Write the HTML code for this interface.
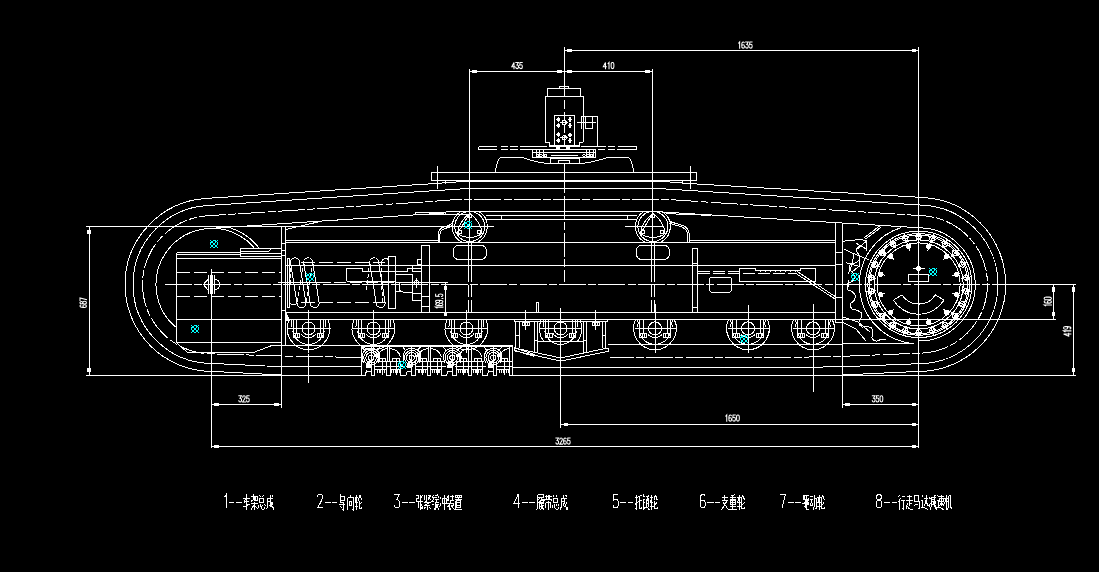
<!DOCTYPE html>
<html><head><meta charset="utf-8"><title>CAD</title>
<style>
html,body{margin:0;padding:0;background:#000;overflow:hidden}
svg{display:block}
.t{font-family:"Liberation Sans",sans-serif;fill:#fff;stroke:#fff;stroke-width:0.3px}
</style></head><body>
<svg width="1099" height="572" viewBox="0 0 1099 572" shape-rendering="crispEdges"><g fill="none" stroke="#fff" stroke-width="1"><line x1="564.3" y1="50.5" x2="918.7" y2="50.5"/>
<line x1="564.3" y1="46.5" x2="564.3" y2="96"/>
<line x1="918.7" y1="46.5" x2="918.7" y2="447.5"/>
<rect x="567.6" y="49.4" width="3.4" height="2.2" fill="#fff"/>
<rect x="912" y="49.4" width="3.4" height="2.2" fill="#fff"/>
<g shape-rendering="geometricPrecision" stroke-width="1.05" stroke-linecap="square" transform="translate(745 45)"><path vector-effect="non-scaling-stroke" transform="translate(-7.23 -3.05) scale(0.52 0.45)" d="M1.8 2.6L3.6 0V13.7"/><path vector-effect="non-scaling-stroke" transform="translate(-3.38 -3.05) scale(0.52 0.45)" d="M5 1.6Q4.5 0 3 0Q0.3 0 0.3 6.5V10Q0.3 13.7 2.9 13.7Q5.5 13.7 5.5 9.9Q5.5 6.1 2.9 6.1Q0.8 6.1 0.3 8.6"/><path vector-effect="non-scaling-stroke" transform="translate(0.47 -3.05) scale(0.52 0.45)" d="M0.3 0H5.3L2.5 5.5Q5.5 5.5 5.5 9.6Q5.5 13.7 2.8 13.7Q0.5 13.7 0.2 11"/><path vector-effect="non-scaling-stroke" transform="translate(4.33 -3.05) scale(0.52 0.45)" d="M5.2 0H0.9L0.5 6Q1.5 5 3 5Q5.5 5 5.5 9.3Q5.5 13.7 2.8 13.7Q0.6 13.7 0.2 11.2"/></g>
<line x1="469.3" y1="71.5" x2="652.6" y2="71.5"/>
<line x1="469.6" y1="68.5" x2="469.6" y2="243"/>
<line x1="652.8" y1="68.5" x2="652.8" y2="243"/>
<rect x="472.6" y="70.4" width="3.4" height="2.2" fill="#fff"/>
<rect x="557.6" y="70.4" width="3.4" height="2.2" fill="#fff"/>
<rect x="567.6" y="70.4" width="3.4" height="2.2" fill="#fff"/>
<rect x="645.9" y="70.4" width="3.4" height="2.2" fill="#fff"/>
<g shape-rendering="geometricPrecision" stroke-width="1.05" stroke-linecap="square" transform="translate(517.1 65.5)"><path vector-effect="non-scaling-stroke" transform="translate(-5.3 -3.05) scale(0.52 0.45)" d="M4.2 13.7V0L0 9.6H5.9"/><path vector-effect="non-scaling-stroke" transform="translate(-1.45 -3.05) scale(0.52 0.45)" d="M0.3 0H5.3L2.5 5.5Q5.5 5.5 5.5 9.6Q5.5 13.7 2.8 13.7Q0.5 13.7 0.2 11"/><path vector-effect="non-scaling-stroke" transform="translate(2.4 -3.05) scale(0.52 0.45)" d="M5.2 0H0.9L0.5 6Q1.5 5 3 5Q5.5 5 5.5 9.3Q5.5 13.7 2.8 13.7Q0.6 13.7 0.2 11.2"/></g>
<g shape-rendering="geometricPrecision" stroke-width="1.05" stroke-linecap="square" transform="translate(608.6 65.5)"><path vector-effect="non-scaling-stroke" transform="translate(-5.3 -3.05) scale(0.52 0.45)" d="M4.2 13.7V0L0 9.6H5.9"/><path vector-effect="non-scaling-stroke" transform="translate(-1.45 -3.05) scale(0.52 0.45)" d="M1.8 2.6L3.6 0V13.7"/><path vector-effect="non-scaling-stroke" transform="translate(2.4 -3.05) scale(0.52 0.45)" d="M2.9 0Q0.3 0 0.3 4V9.7Q0.3 13.7 2.9 13.7Q5.5 13.7 5.5 9.7V4Q5.5 0 2.9 0"/></g>
<line x1="89" y1="227" x2="89" y2="375"/>
<line x1="86" y1="226.5" x2="492" y2="226.5"/>
<line x1="86" y1="375.5" x2="361.8" y2="375.5"/>
<line x1="512.3" y1="375.5" x2="1076" y2="375.5"/>
<rect x="87.9" y="230.3" width="2.2" height="3.4" fill="#fff"/>
<rect x="87.9" y="368.3" width="2.2" height="3.4" fill="#fff"/>
<g shape-rendering="geometricPrecision" stroke-width="1.05" stroke-linecap="square" transform="translate(83.2 302.7) rotate(-90)"><path vector-effect="non-scaling-stroke" transform="translate(-4.85 -3.2) scale(0.5 0.47)" d="M5 1.6Q4.5 0 3 0Q0.3 0 0.3 6.5V10Q0.3 13.7 2.9 13.7Q5.5 13.7 5.5 9.9Q5.5 6.1 2.9 6.1Q0.8 6.1 0.3 8.6"/><path vector-effect="non-scaling-stroke" transform="translate(-1.4 -3.2) scale(0.5 0.47)" d="M2.9 0Q0.6 0 0.6 3Q0.6 6 2.9 6Q5.2 6 5.2 3Q5.2 0 2.9 0M2.9 6Q0.2 6 0.2 9.9Q0.2 13.7 2.9 13.7Q5.6 13.7 5.6 9.9Q5.6 6 2.9 6"/><path vector-effect="non-scaling-stroke" transform="translate(2.05 -3.2) scale(0.5 0.47)" d="M0.2 0H5.5L2 13.7"/></g>
<line x1="1053.6" y1="284" x2="1053.6" y2="319.5"/>
<line x1="1073.4" y1="284" x2="1073.4" y2="375"/>
<line x1="285" y1="319.5" x2="1056" y2="319.5"/>
<rect x="1052.5" y="287.9" width="2.2" height="3.4" fill="#fff"/>
<rect x="1052.5" y="312.5" width="2.2" height="3.4" fill="#fff"/>
<rect x="1072.3" y="287.9" width="2.2" height="3.4" fill="#fff"/>
<rect x="1072.3" y="368.4" width="2.2" height="3.4" fill="#fff"/>
<g shape-rendering="geometricPrecision" stroke-width="1.05" stroke-linecap="square" transform="translate(1047.8 301.9) rotate(-90)"><path vector-effect="non-scaling-stroke" transform="translate(-4.85 -3.6) scale(0.5 0.53)" d="M1.8 2.6L3.6 0V13.7"/><path vector-effect="non-scaling-stroke" transform="translate(-1.4 -3.6) scale(0.5 0.53)" d="M5 1.6Q4.5 0 3 0Q0.3 0 0.3 6.5V10Q0.3 13.7 2.9 13.7Q5.5 13.7 5.5 9.9Q5.5 6.1 2.9 6.1Q0.8 6.1 0.3 8.6"/><path vector-effect="non-scaling-stroke" transform="translate(2.05 -3.6) scale(0.5 0.53)" d="M2.9 0Q0.3 0 0.3 4V9.7Q0.3 13.7 2.9 13.7Q5.5 13.7 5.5 9.7V4Q5.5 0 2.9 0"/></g>
<g shape-rendering="geometricPrecision" stroke-width="1.05" stroke-linecap="square" transform="translate(1067.2 331.3) rotate(-90)"><path vector-effect="non-scaling-stroke" transform="translate(-4.85 -3.6) scale(0.5 0.53)" d="M4.2 13.7V0L0 9.6H5.9"/><path vector-effect="non-scaling-stroke" transform="translate(-1.4 -3.6) scale(0.5 0.53)" d="M1.8 2.6L3.6 0V13.7"/><path vector-effect="non-scaling-stroke" transform="translate(2.05 -3.6) scale(0.5 0.53)" d="M0.6 12.1Q1.1 13.7 2.6 13.7Q5.3 13.7 5.3 7.2V3.7Q5.3 0 2.7 0Q0.1 0 0.1 3.8Q0.1 7.6 2.7 7.6Q4.8 7.6 5.3 5.1"/></g>
<line x1="211.6" y1="404.5" x2="281.4" y2="404.5"/>
<line x1="211.6" y1="269" x2="211.6" y2="447.5"/>
<line x1="281.4" y1="226.5" x2="281.4" y2="408"/>
<rect x="214.9" y="403.4" width="3.4" height="2.2" fill="#fff"/>
<rect x="274.7" y="403.4" width="3.4" height="2.2" fill="#fff"/>
<g shape-rendering="geometricPrecision" stroke-width="1.05" stroke-linecap="square" transform="translate(244 398.8)"><path vector-effect="non-scaling-stroke" transform="translate(-5.3 -3.05) scale(0.52 0.45)" d="M0.3 0H5.3L2.5 5.5Q5.5 5.5 5.5 9.6Q5.5 13.7 2.8 13.7Q0.5 13.7 0.2 11"/><path vector-effect="non-scaling-stroke" transform="translate(-1.45 -3.05) scale(0.52 0.45)" d="M0.3 3Q0.3 0 2.8 0Q5.3 0 5.3 3Q5.3 5.5 0.3 13.7H5.6"/><path vector-effect="non-scaling-stroke" transform="translate(2.4 -3.05) scale(0.52 0.45)" d="M5.2 0H0.9L0.5 6Q1.5 5 3 5Q5.5 5 5.5 9.3Q5.5 13.7 2.8 13.7Q0.6 13.7 0.2 11.2"/></g>
<line x1="842.5" y1="404.5" x2="918.7" y2="404.5"/>
<line x1="842.5" y1="345" x2="842.5" y2="408"/>
<rect x="845.8" y="403.4" width="3.4" height="2.2" fill="#fff"/>
<rect x="912" y="403.4" width="3.4" height="2.2" fill="#fff"/>
<g shape-rendering="geometricPrecision" stroke-width="1.05" stroke-linecap="square" transform="translate(877.5 398.8)"><path vector-effect="non-scaling-stroke" transform="translate(-5.3 -3.05) scale(0.52 0.45)" d="M0.3 0H5.3L2.5 5.5Q5.5 5.5 5.5 9.6Q5.5 13.7 2.8 13.7Q0.5 13.7 0.2 11"/><path vector-effect="non-scaling-stroke" transform="translate(-1.45 -3.05) scale(0.52 0.45)" d="M5.2 0H0.9L0.5 6Q1.5 5 3 5Q5.5 5 5.5 9.3Q5.5 13.7 2.8 13.7Q0.6 13.7 0.2 11.2"/><path vector-effect="non-scaling-stroke" transform="translate(2.4 -3.05) scale(0.52 0.45)" d="M2.9 0Q0.3 0 0.3 4V9.7Q0.3 13.7 2.9 13.7Q5.5 13.7 5.5 9.7V4Q5.5 0 2.9 0"/></g>
<line x1="560.7" y1="424.5" x2="918.7" y2="424.5"/>
<line x1="560.7" y1="352.5" x2="560.7" y2="427.5"/>
<rect x="564" y="423.4" width="3.4" height="2.2" fill="#fff"/>
<rect x="912" y="423.4" width="3.4" height="2.2" fill="#fff"/>
<g shape-rendering="geometricPrecision" stroke-width="1.05" stroke-linecap="square" transform="translate(732.1 418)"><path vector-effect="non-scaling-stroke" transform="translate(-7.23 -3.05) scale(0.52 0.45)" d="M1.8 2.6L3.6 0V13.7"/><path vector-effect="non-scaling-stroke" transform="translate(-3.38 -3.05) scale(0.52 0.45)" d="M5 1.6Q4.5 0 3 0Q0.3 0 0.3 6.5V10Q0.3 13.7 2.9 13.7Q5.5 13.7 5.5 9.9Q5.5 6.1 2.9 6.1Q0.8 6.1 0.3 8.6"/><path vector-effect="non-scaling-stroke" transform="translate(0.47 -3.05) scale(0.52 0.45)" d="M5.2 0H0.9L0.5 6Q1.5 5 3 5Q5.5 5 5.5 9.3Q5.5 13.7 2.8 13.7Q0.6 13.7 0.2 11.2"/><path vector-effect="non-scaling-stroke" transform="translate(4.33 -3.05) scale(0.52 0.45)" d="M2.9 0Q0.3 0 0.3 4V9.7Q0.3 13.7 2.9 13.7Q5.5 13.7 5.5 9.7V4Q5.5 0 2.9 0"/></g>
<line x1="211.6" y1="446.5" x2="918.7" y2="446.5"/>
<rect x="214.9" y="445.4" width="3.4" height="2.2" fill="#fff"/>
<rect x="912" y="445.4" width="3.4" height="2.2" fill="#fff"/>
<g shape-rendering="geometricPrecision" stroke-width="1.05" stroke-linecap="square" transform="translate(563 441)"><path vector-effect="non-scaling-stroke" transform="translate(-7.23 -3.05) scale(0.52 0.45)" d="M0.3 0H5.3L2.5 5.5Q5.5 5.5 5.5 9.6Q5.5 13.7 2.8 13.7Q0.5 13.7 0.2 11"/><path vector-effect="non-scaling-stroke" transform="translate(-3.38 -3.05) scale(0.52 0.45)" d="M0.3 3Q0.3 0 2.8 0Q5.3 0 5.3 3Q5.3 5.5 0.3 13.7H5.6"/><path vector-effect="non-scaling-stroke" transform="translate(0.47 -3.05) scale(0.52 0.45)" d="M5 1.6Q4.5 0 3 0Q0.3 0 0.3 6.5V10Q0.3 13.7 2.9 13.7Q5.5 13.7 5.5 9.9Q5.5 6.1 2.9 6.1Q0.8 6.1 0.3 8.6"/><path vector-effect="non-scaling-stroke" transform="translate(4.33 -3.05) scale(0.52 0.45)" d="M5.2 0H0.9L0.5 6Q1.5 5 3 5Q5.5 5 5.5 9.3Q5.5 13.7 2.8 13.7Q0.6 13.7 0.2 11.2"/></g>
<line x1="165" y1="284.4" x2="1010" y2="284.4" stroke-dasharray="27 2.2 8 2.2"/>
<line x1="1010" y1="284.4" x2="1076" y2="284.4"/>
<line x1="564.3" y1="185" x2="564.3" y2="281.8" stroke-dasharray="8 2.5 24 2.5"/>
<path d="M461.9 181.6 L431 183.8 L206.42 198.38 A87 86.2 0 0 0 125 284.4 A87 87 0 0 0 150.48 345.92 A87 87 0 0 0 212 371.4 L291 375.5"/>
<path d="M664.1 181.6 L697 184 L923.89 197.55 A87 87 0 0 1 980.22 222.88 A87 87 0 0 1 1005.7 284.4 A87 87 0 0 1 980.22 345.92 A87 87 0 0 1 918.7 371.4 L831 375.5"/>
<line x1="445.3" y1="180.7" x2="445.3" y2="183.5"/>
<line x1="682.3" y1="180.7" x2="682.3" y2="183.5"/>
<path d="M512.3 367.5 L790 367.5 L843 366.7 L918.7 363.7 A79.3 79.3 0 0 0 974.77 340.47 A79.3 79.3 0 0 0 998 284.4 A79.3 79.3 0 0 0 974.77 228.33 A79.3 79.3 0 0 0 923.69 205.26 L664.1 188.9 L461.9 188.9 L400 192.9 L206.83 205.57 A79 79 0 0 0 156.14 228.54 A79 79 0 0 0 133 284.4 A79 79 0 0 0 156.14 340.26 A79 79 0 0 0 212 363.4 L265 366 L361 366.6"/>
<path d="M362 357.5 L282 356 L212 353.9 A69.5 69.5 0 0 1 162.86 333.54 A69.5 69.5 0 0 1 142.5 284.4 A69.5 68.8 0 0 1 207.63 215.74 L425 201.9 L455 199.6 L670 199.6 L710 202.3 L923.03 215.74 A68.8 68.8 0 0 1 967.35 235.75 A68.8 68.8 0 0 1 987.5 284.4 A68.8 68.8 0 0 1 967.35 333.05 A68.8 68.8 0 0 1 918.7 353.2 L843 356.3 L790 357.4 L610 357.3" stroke-dasharray="27 2.2 8 2.2"/>
<rect x="431.6" y="172.4" width="264.7" height="8"/>
<line x1="461.9" y1="181.4" x2="664.1" y2="181.4"/>
<line x1="437.6" y1="166.2" x2="437.6" y2="188.6"/>
<line x1="690.3" y1="166.2" x2="690.3" y2="188.6"/>
<line x1="564.3" y1="163.6" x2="564.3" y2="185"/>
<path d="M176.76 327.92 A56 56 0 0 1 240 235.9"/>
<rect x="559.3" y="86.5" width="9.6" height="1.6"/>
<rect x="547.2" y="88.1" width="33.5" height="7.9"/>
<path d="M545.3 96 L545.3 141.6 L546.5 142.8 L549.1 142.8 L549.1 146.3"/>
<path d="M583.4 96 L583.4 141.6 L582.2 142.8 L579.8 142.8 L579.8 146.3"/>
<line x1="545.3" y1="96" x2="583.4" y2="96"/>
<rect x="554.2" y="115.6" width="20.2" height="29.8"/>
<line x1="549.1" y1="145.4" x2="579.8" y2="145.4"/>
<line x1="564.2" y1="100" x2="564.2" y2="145" stroke-dasharray="9 3"/>
<path d="M581.5 128.8 L581.5 116.5 L597.6 116.5 L597.6 146.3"/>
<line x1="583.4" y1="116.5" x2="583.4" y2="128.8"/>
<rect x="585.4" y="116.5" width="7.5" height="12.3"/>
<line x1="577.4" y1="122.5" x2="595.7" y2="122.5"/>
<circle cx="564.2" cy="122.5" r="2.1"/>
<line x1="560.2" y1="122.5" x2="568.2" y2="122.5"/>
<path d="M556.9 119.6 l1.5 -2 l1.5 2 l-1.5 2 z" fill="#fff"/>
<path d="M556.9 125.4 l1.5 -2 l1.5 2 l-1.5 2 z" fill="#fff"/>
<path d="M568.5 119.6 l1.5 -2 l1.5 2 l-1.5 2 z" fill="#fff"/>
<path d="M568.5 125.4 l1.5 -2 l1.5 2 l-1.5 2 z" fill="#fff"/>
<circle cx="564.2" cy="137.7" r="2.1"/>
<line x1="560.2" y1="137.7" x2="568.2" y2="137.7"/>
<path d="M556.9 134.8 l1.5 -2 l1.5 2 l-1.5 2 z" fill="#fff"/>
<path d="M556.9 140.6 l1.5 -2 l1.5 2 l-1.5 2 z" fill="#fff"/>
<path d="M568.5 134.8 l1.5 -2 l1.5 2 l-1.5 2 z" fill="#fff"/>
<path d="M568.5 140.6 l1.5 -2 l1.5 2 l-1.5 2 z" fill="#fff"/>
<line x1="479.1" y1="146.6" x2="497.3" y2="146.6"/>
<line x1="500.9" y1="146.6" x2="508.2" y2="146.6"/>
<line x1="510" y1="146.6" x2="517.8" y2="146.6"/>
<line x1="520" y1="146.6" x2="547.3" y2="146.6"/>
<line x1="478.2" y1="149.6" x2="497.3" y2="149.6"/>
<line x1="500.9" y1="149.6" x2="508.2" y2="149.6"/>
<line x1="510" y1="149.6" x2="517.8" y2="149.6"/>
<line x1="520" y1="149.6" x2="533" y2="149.6"/>
<path d="M479.1 146.6 L478.2 149.6"/>
<line x1="581" y1="146.6" x2="605.5" y2="146.6"/>
<line x1="608.2" y1="146.6" x2="615" y2="146.6"/>
<line x1="618.2" y1="146.6" x2="636.9" y2="146.6"/>
<line x1="598.2" y1="149.6" x2="605" y2="149.6"/>
<line x1="608.2" y1="149.6" x2="615" y2="149.6"/>
<line x1="617.3" y1="149.6" x2="636.9" y2="149.6"/>
<line x1="636.9" y1="146.6" x2="636.9" y2="149.6"/>
<line x1="549.1" y1="146.6" x2="579.8" y2="146.6"/>
<line x1="549.1" y1="149.2" x2="579.8" y2="149.2"/>
<rect x="532.8" y="149.5" width="62.7" height="8.3"/>
<line x1="533.4" y1="152" x2="595.2" y2="152"/>
<line x1="536" y1="149.5" x2="536" y2="158.2"/>
<line x1="539.5" y1="149.5" x2="539.5" y2="158.2"/>
<line x1="543" y1="149.5" x2="543" y2="158.2"/>
<line x1="586" y1="149.5" x2="586" y2="158.2"/>
<line x1="589.5" y1="149.5" x2="589.5" y2="158.2"/>
<line x1="593" y1="149.5" x2="593" y2="158.2"/>
<rect x="550.4" y="158.2" width="28.6" height="5.4"/>
<rect x="558.9" y="160.6" width="10.8" height="3"/>
<line x1="551" y1="155.3" x2="578" y2="155.3"/>
<circle cx="537.5" cy="155.3" r="1.2"/>
<circle cx="541" cy="155.3" r="1.2"/>
<circle cx="545.5" cy="155.3" r="1.2"/>
<circle cx="584" cy="155.3" r="1.2"/>
<circle cx="588" cy="155.3" r="1.2"/>
<circle cx="591.5" cy="155.3" r="1.2"/>
<rect x="556.5" y="146.8" width="2.8" height="2.6" fill="#fff"/>
<rect x="566.2" y="146.8" width="2.8" height="2.6" fill="#fff"/>
<path d="M495 172.3 C496.5 165 497.5 159.5 500.5 157.4 L521.8 157.4 C531 160.5 541 163.6 550.4 163.6 M579 163.6 C588 163.6 598 160.5 608.4 157.4 L628.5 157.4 C631.5 159.5 632.5 165 634 172.3"/>
<line x1="445.5" y1="211.9" x2="661" y2="211.9"/>
<line x1="445.5" y1="214.2" x2="469.4" y2="214.2"/>
<line x1="425" y1="215" x2="445.5" y2="211.9"/>
<line x1="208.32" y1="228.52" x2="445.5" y2="212.9"/>
<line x1="661" y1="211.9" x2="922.16" y2="227.91"/>
<line x1="666" y1="213.6" x2="711" y2="215.4"/>
<rect x="415.6" y="212.8" width="29.9" height="1.6"/>
<line x1="486" y1="215.6" x2="637" y2="215.6"/>
<line x1="486" y1="219.4" x2="637" y2="219.4"/>
<line x1="501.4" y1="215.6" x2="501.4" y2="219.4"/>
<line x1="627.6" y1="215.6" x2="627.6" y2="219.4"/>
<path d="M460.79 211.5 A17.5 17.5 0 0 0 462.28 242.3"/>
<path d="M478.81 211.5 A17.5 17.5 0 0 1 477.32 242.3"/>
<circle cx="469.8" cy="226.5" r="15"/>
<path d="M469.8 213.2 C476.8 218.5 481.8 226.5 482.1 233.5 C477.8 236.5 472.8 237.5 469.8 237.5 C466.8 237.5 461.8 236.5 457.5 233.5 Z M457.5 233.5 C457.8 226.5 462.8 218.5 469.8 213.2"/>
<rect x="468.3" y="214" width="3" height="3"/>
<rect x="458.8" y="230.5" width="3" height="3"/>
<rect x="477.8" y="230.5" width="3" height="3"/>
<line x1="455.8" y1="226.5" x2="493.8" y2="226.5"/>
<line x1="469.8" y1="220.5" x2="469.8" y2="240.5"/>
<rect x="453.3" y="245.2" width="33" height="14.4" rx="5.5"/>
<line x1="468.3" y1="243" x2="468.3" y2="270"/>
<line x1="471.4" y1="243" x2="471.4" y2="270"/>
<line x1="468.3" y1="270" x2="468.3" y2="311.5" stroke-dasharray="12 3"/>
<line x1="471.4" y1="270" x2="471.4" y2="311.5" stroke-dasharray="12 3"/>
<path d="M643.89 211.5 A17.5 17.5 0 0 0 645.38 242.3"/>
<path d="M661.91 211.5 A17.5 17.5 0 0 1 660.42 242.3"/>
<circle cx="652.9" cy="226.5" r="15"/>
<path d="M652.9 213.2 C659.9 218.5 664.9 226.5 665.2 233.5 C660.9 236.5 655.9 237.5 652.9 237.5 C649.9 237.5 644.9 236.5 640.6 233.5 Z M640.6 233.5 C640.9 226.5 645.9 218.5 652.9 213.2"/>
<rect x="651.4" y="214" width="3" height="3"/>
<rect x="641.9" y="230.5" width="3" height="3"/>
<rect x="660.9" y="230.5" width="3" height="3"/>
<line x1="624.9" y1="226.5" x2="663.9" y2="226.5"/>
<line x1="652.9" y1="220.5" x2="652.9" y2="240.5"/>
<rect x="636.4" y="245.2" width="33" height="14.4" rx="5.5"/>
<line x1="651.4" y1="243" x2="651.4" y2="270"/>
<line x1="654.5" y1="243" x2="654.5" y2="270"/>
<line x1="651.4" y1="270" x2="651.4" y2="311.5" stroke-dasharray="12 3"/>
<line x1="654.5" y1="270" x2="654.5" y2="311.5" stroke-dasharray="12 3"/>
<path d="M438.4 242 L438.4 234 C438.6 229.5 441 227.8 444 227 C448 226 450.5 225 452.7 223.2"/>
<path d="M439.9 242 L439.9 235 C440.1 231 442 229.3 445 228.5 C449 227.5 451 226.5 453 225"/>
<path d="M689 242 L689 233 C688.8 229 686 227 682.8 225.5 C677 223.5 673 223 669.9 221.4"/>
<path d="M687.5 242 L687.5 234 C687.3 230.5 685 228.5 681.8 227 C676 225 672.5 224.5 669.5 223.2"/>
<line x1="281.6" y1="226.5" x2="281.6" y2="345.5"/>
<line x1="285.3" y1="226.5" x2="285.3" y2="345.5"/>
<line x1="281.6" y1="243.9" x2="285.3" y2="243.9"/>
<line x1="281.6" y1="250.9" x2="285.3" y2="250.9"/>
<line x1="281.6" y1="255.3" x2="285.3" y2="255.3"/>
<line x1="281.6" y1="310" x2="285.3" y2="310"/>
<line x1="835.7" y1="222.5" x2="835.7" y2="322.5"/>
<line x1="842.5" y1="222.5" x2="842.5" y2="345.5"/>
<line x1="285.3" y1="240.3" x2="438.2" y2="240.3"/>
<line x1="285.3" y1="242.3" x2="835.5" y2="242.3"/>
<line x1="689" y1="240.3" x2="835.5" y2="240.3"/>
<line x1="286" y1="229.4" x2="318.7" y2="221.8"/>
<line x1="285.3" y1="265.2" x2="835.5" y2="265.2"/>
<line x1="285.3" y1="312.5" x2="835.5" y2="312.5"/>
<line x1="285.3" y1="319.5" x2="835.5" y2="319.5"/>
<line x1="176.6" y1="252.7" x2="176.6" y2="342.7"/>
<line x1="176.6" y1="252.7" x2="240" y2="252.7"/>
<line x1="176.6" y1="254.2" x2="240" y2="254.2"/>
<line x1="176.6" y1="258.5" x2="281.6" y2="258.5"/>
<line x1="176.6" y1="319.5" x2="281.6" y2="319.5"/>
<line x1="176.6" y1="342.7" x2="281.6" y2="342.7"/>
<rect x="240" y="248.5" width="41.6" height="8.2"/>
<path d="M240 251.9 L268.2 251.9 L271 248.5"/>
<line x1="240" y1="253.7" x2="281.6" y2="253.7"/>
<line x1="176.6" y1="272.5" x2="281.6" y2="272.5" stroke-dasharray="13 4"/>
<line x1="176.6" y1="296.4" x2="281.6" y2="296.4" stroke-dasharray="13 4"/>
<path d="M208.4 279 L203.3 284.5 L208.4 290.3 M213.9 279 Q219.8 280 219.8 284.5 Q219.8 289.3 213.9 290.3"/>
<line x1="208.4" y1="275" x2="208.4" y2="294"/>
<line x1="210.3" y1="275" x2="210.3" y2="294"/>
<line x1="212.4" y1="275" x2="212.4" y2="294"/>
<line x1="214.2" y1="275" x2="214.2" y2="294"/>
<path d="M230.39 227.81 A59.5 59.5 0 0 1 258.89 247.77"/>
<path d="M240 235.9 A56 56 0 0 1 254.26 247.66"/>
<path d="M176.6 342.7 L187.3 352.3 L254 352.3 L272.7 345.2 L361.5 345.2"/>
<path d="M290.5 262.3 A4.5 4.5 0 0 1 299.5 262.3"/>
<path d="M297 303 A4.5 4.5 0 0 0 306 303"/>
<line x1="290.5" y1="262.3" x2="297" y2="303"/>
<line x1="299.5" y1="262.3" x2="306" y2="303"/>
<path d="M303.7 262.3 A4.5 4.5 0 0 1 312.7 262.3"/>
<path d="M310.2 303 A4.5 4.5 0 0 0 319.2 303"/>
<line x1="303.7" y1="262.3" x2="310.2" y2="303"/>
<line x1="312.7" y1="262.3" x2="319.2" y2="303"/>
<line x1="303.7" y1="262.3" x2="297.2" y2="303" stroke-dasharray="4 2"/>
<line x1="312.7" y1="262.3" x2="306.2" y2="303" stroke-dasharray="4 2"/>
<rect x="287.3" y="258.2" width="2.4" height="48.8"/>
<path d="M289.7 303 A4.5 4.5 0 0 0 297 303"/>
<line x1="290.5" y1="262.3" x2="289.7" y2="300" stroke-dasharray="4 2"/>
<path d="M369.7 262.3 A4.5 4.5 0 0 1 378.7 262.3"/>
<path d="M376.2 303 A4.5 4.5 0 0 0 385.2 303"/>
<line x1="369.7" y1="262.3" x2="376.2" y2="303"/>
<line x1="378.7" y1="262.3" x2="385.2" y2="303"/>
<path d="M381.3 262.3 A4.5 4.5 0 0 1 388.5 259.5"/>
<line x1="381.3" y1="262.3" x2="382.3" y2="303" stroke-dasharray="4 2"/>
<line x1="369.7" y1="262.3" x2="366.5" y2="290" stroke-dasharray="4 2"/>
<line x1="301" y1="262.3" x2="385" y2="262.3" stroke-dasharray="14 4"/>
<line x1="301" y1="302.4" x2="385" y2="302.4" stroke-dasharray="14 4"/>
<line x1="277.7" y1="282.3" x2="330.5" y2="282.3"/>
<line x1="334" y1="282.3" x2="421" y2="282.3" stroke-dasharray="12 4"/>
<rect x="388.5" y="256.4" width="7.2" height="51.8"/>
<path d="M346.5 281 L346.5 268.5 L362.3 268.5 L362.3 271.4 L407 271.4 L407 268.7 L422 268.7"/>
<line x1="346.5" y1="281" x2="395.7" y2="281"/>
<rect x="421.5" y="245.6" width="8.1" height="66.4"/>
<line x1="421.5" y1="296.4" x2="429.6" y2="296.4"/>
<line x1="421.5" y1="306.8" x2="429.6" y2="306.8"/>
<rect x="417.3" y="259.1" width="4.2" height="5.3"/>
<rect x="412.3" y="265.3" width="9.4" height="6.5"/>
<path d="M395.9 271 L401.8 271"/>
<path d="M395.9 274.4 L412.3 274.4 L412.3 300.5 L421.7 300.5"/>
<line x1="412.3" y1="293.2" x2="421.7" y2="293.2"/>
<path d="M395.9 291.4 L402 291.4 L404 292.6 L412.3 292.6"/>
<path d="M399.1 282.7 L399.1 290 L401 291.4"/>
<circle cx="416.4" cy="282.8" r="2.3"/>
<line x1="416.4" y1="278" x2="416.4" y2="287.5"/>
<line x1="395.9" y1="282.3" x2="447.8" y2="282.3"/>
<line x1="445.5" y1="282.3" x2="445.5" y2="314.6"/>
<rect x="444.5" y="286" width="2" height="3" fill="#fff"/>
<rect x="444.5" y="312.8" width="2" height="3" fill="#fff"/>
<g shape-rendering="geometricPrecision" stroke-width="1.05" stroke-linecap="square" transform="translate(439.2 301.4) rotate(-90)"><path vector-effect="non-scaling-stroke" transform="translate(-7.35 -3.6) scale(0.45 0.53)" d="M1.8 2.6L3.6 0V13.7"/><path vector-effect="non-scaling-stroke" transform="translate(-4.3 -3.6) scale(0.45 0.53)" d="M5 1.6Q4.5 0 3 0Q0.3 0 0.3 6.5V10Q0.3 13.7 2.9 13.7Q5.5 13.7 5.5 9.9Q5.5 6.1 2.9 6.1Q0.8 6.1 0.3 8.6"/><path vector-effect="non-scaling-stroke" transform="translate(-1.25 -3.6) scale(0.45 0.53)" d="M0.6 12.1Q1.1 13.7 2.6 13.7Q5.3 13.7 5.3 7.2V3.7Q5.3 0 2.7 0Q0.1 0 0.1 3.8Q0.1 7.6 2.7 7.6Q4.8 7.6 5.3 5.1"/><path vector-effect="non-scaling-stroke" transform="translate(1.8 -3.6) scale(0.45 0.53)" d="M2.5 12.2V13.7"/><path vector-effect="non-scaling-stroke" transform="translate(4.85 -3.6) scale(0.45 0.53)" d="M5.2 0H0.9L0.5 6Q1.5 5 3 5Q5.5 5 5.5 9.3Q5.5 13.7 2.8 13.7Q0.6 13.7 0.2 11.2"/></g>
<circle cx="308.5" cy="328.4" r="6.5"/>
<line x1="305" y1="328.4" x2="312" y2="328.4"/>
<path d="M327.85 319.5 A21.3 21.3 0 1 1 289.15 319.5"/>
<line x1="288" y1="328.4" x2="330.5" y2="328.4"/>
<path d="M324.34 330.63 A16 16 0 0 1 292.66 330.63"/>
<path d="M316.04 333.68 A9.2 9.2 0 0 1 300.96 333.68"/>
<line x1="296.5" y1="319.5" x2="296.5" y2="333.5"/>
<line x1="293.2" y1="319.5" x2="293.2" y2="333.5"/>
<rect x="293.2" y="333.5" width="6.7" height="4"/>
<line x1="297.7" y1="333.5" x2="297.7" y2="337.5"/>
<line x1="295.5" y1="333.5" x2="295.5" y2="337.5"/>
<path d="M291 320 q1.5 3 0 7"/>
<line x1="320.5" y1="319.5" x2="320.5" y2="333.5"/>
<line x1="323.8" y1="319.5" x2="323.8" y2="333.5"/>
<rect x="317.1" y="333.5" width="6.7" height="4"/>
<line x1="319.3" y1="333.5" x2="319.3" y2="337.5"/>
<line x1="321.5" y1="333.5" x2="321.5" y2="337.5"/>
<path d="M326 320 q-1.5 3 0 7"/>
<line x1="308.5" y1="309.5" x2="308.5" y2="352.5"/>
<circle cx="373.4" cy="328.4" r="6.5"/>
<line x1="369.9" y1="328.4" x2="376.9" y2="328.4"/>
<path d="M392.75 319.5 A21.3 21.3 0 1 1 354.05 319.5"/>
<line x1="352.9" y1="328.4" x2="395.4" y2="328.4"/>
<path d="M389.24 330.63 A16 16 0 0 1 357.56 330.63"/>
<path d="M380.94 333.68 A9.2 9.2 0 0 1 365.86 333.68"/>
<line x1="361.4" y1="319.5" x2="361.4" y2="333.5"/>
<line x1="358.1" y1="319.5" x2="358.1" y2="333.5"/>
<rect x="358.1" y="333.5" width="6.7" height="4"/>
<line x1="362.6" y1="333.5" x2="362.6" y2="337.5"/>
<line x1="360.4" y1="333.5" x2="360.4" y2="337.5"/>
<path d="M355.9 320 q1.5 3 0 7"/>
<line x1="385.4" y1="319.5" x2="385.4" y2="333.5"/>
<line x1="388.7" y1="319.5" x2="388.7" y2="333.5"/>
<rect x="382" y="333.5" width="6.7" height="4"/>
<line x1="384.2" y1="333.5" x2="384.2" y2="337.5"/>
<line x1="386.4" y1="333.5" x2="386.4" y2="337.5"/>
<path d="M390.9 320 q-1.5 3 0 7"/>
<line x1="373.4" y1="309.5" x2="373.4" y2="352.5"/>
<circle cx="466.4" cy="328.4" r="6.5"/>
<line x1="462.9" y1="328.4" x2="469.9" y2="328.4"/>
<path d="M485.75 319.5 A21.3 21.3 0 1 1 447.05 319.5"/>
<line x1="445.9" y1="328.4" x2="488.4" y2="328.4"/>
<path d="M482.24 330.63 A16 16 0 0 1 450.56 330.63"/>
<path d="M473.94 333.68 A9.2 9.2 0 0 1 458.86 333.68"/>
<line x1="454.4" y1="319.5" x2="454.4" y2="333.5"/>
<line x1="451.1" y1="319.5" x2="451.1" y2="333.5"/>
<rect x="451.1" y="333.5" width="6.7" height="4"/>
<line x1="455.6" y1="333.5" x2="455.6" y2="337.5"/>
<line x1="453.4" y1="333.5" x2="453.4" y2="337.5"/>
<path d="M448.9 320 q1.5 3 0 7"/>
<line x1="478.4" y1="319.5" x2="478.4" y2="333.5"/>
<line x1="481.7" y1="319.5" x2="481.7" y2="333.5"/>
<rect x="475" y="333.5" width="6.7" height="4"/>
<line x1="477.2" y1="333.5" x2="477.2" y2="337.5"/>
<line x1="479.4" y1="333.5" x2="479.4" y2="337.5"/>
<path d="M483.9 320 q-1.5 3 0 7"/>
<line x1="466.4" y1="309.5" x2="466.4" y2="352.5"/>
<circle cx="560.6" cy="328.4" r="6.5"/>
<line x1="557.1" y1="328.4" x2="564.1" y2="328.4"/>
<path d="M579.95 319.5 A21.3 21.3 0 0 1 577.38 341.51"/>
<path d="M543.82 341.51 A21.3 21.3 0 0 1 541.25 319.5"/>
<line x1="540.1" y1="328.4" x2="581.1" y2="328.4"/>
<path d="M576.44 330.63 A16 16 0 0 1 544.76 330.63"/>
<path d="M568.14 333.68 A9.2 9.2 0 0 1 553.06 333.68"/>
<line x1="548.6" y1="319.5" x2="548.6" y2="333.5"/>
<line x1="545.3" y1="319.5" x2="545.3" y2="333.5"/>
<rect x="545.3" y="333.5" width="6.7" height="4"/>
<line x1="549.8" y1="333.5" x2="549.8" y2="337.5"/>
<line x1="547.6" y1="333.5" x2="547.6" y2="337.5"/>
<path d="M543.1 320 q1.5 3 0 7"/>
<line x1="572.6" y1="319.5" x2="572.6" y2="333.5"/>
<line x1="575.9" y1="319.5" x2="575.9" y2="333.5"/>
<rect x="569.2" y="333.5" width="6.7" height="4"/>
<line x1="571.4" y1="333.5" x2="571.4" y2="337.5"/>
<line x1="573.6" y1="333.5" x2="573.6" y2="337.5"/>
<path d="M578.1 320 q-1.5 3 0 7"/>
<line x1="560.6" y1="308" x2="560.6" y2="352.5"/>
<circle cx="655" cy="328.4" r="6.5"/>
<line x1="651.5" y1="328.4" x2="658.5" y2="328.4"/>
<path d="M674.35 319.5 A21.3 21.3 0 1 1 635.65 319.5"/>
<line x1="634.5" y1="328.4" x2="677" y2="328.4"/>
<path d="M670.84 330.63 A16 16 0 0 1 639.16 330.63"/>
<path d="M662.54 333.68 A9.2 9.2 0 0 1 647.46 333.68"/>
<line x1="643" y1="319.5" x2="643" y2="333.5"/>
<line x1="639.7" y1="319.5" x2="639.7" y2="333.5"/>
<rect x="639.7" y="333.5" width="6.7" height="4"/>
<line x1="644.2" y1="333.5" x2="644.2" y2="337.5"/>
<line x1="642" y1="333.5" x2="642" y2="337.5"/>
<path d="M637.5 320 q1.5 3 0 7"/>
<line x1="667" y1="319.5" x2="667" y2="333.5"/>
<line x1="670.3" y1="319.5" x2="670.3" y2="333.5"/>
<rect x="663.6" y="333.5" width="6.7" height="4"/>
<line x1="665.8" y1="333.5" x2="665.8" y2="337.5"/>
<line x1="668" y1="333.5" x2="668" y2="337.5"/>
<path d="M672.5 320 q-1.5 3 0 7"/>
<line x1="655" y1="309.5" x2="655" y2="352.5"/>
<circle cx="748" cy="328.4" r="6.5"/>
<line x1="744.5" y1="328.4" x2="751.5" y2="328.4"/>
<path d="M767.35 319.5 A21.3 21.3 0 1 1 728.65 319.5"/>
<line x1="727.5" y1="328.4" x2="770" y2="328.4"/>
<path d="M763.84 330.63 A16 16 0 0 1 732.16 330.63"/>
<path d="M755.54 333.68 A9.2 9.2 0 0 1 740.46 333.68"/>
<line x1="736" y1="319.5" x2="736" y2="333.5"/>
<line x1="732.7" y1="319.5" x2="732.7" y2="333.5"/>
<rect x="732.7" y="333.5" width="6.7" height="4"/>
<line x1="737.2" y1="333.5" x2="737.2" y2="337.5"/>
<line x1="735" y1="333.5" x2="735" y2="337.5"/>
<path d="M730.5 320 q1.5 3 0 7"/>
<line x1="760" y1="319.5" x2="760" y2="333.5"/>
<line x1="763.3" y1="319.5" x2="763.3" y2="333.5"/>
<rect x="756.6" y="333.5" width="6.7" height="4"/>
<line x1="758.8" y1="333.5" x2="758.8" y2="337.5"/>
<line x1="761" y1="333.5" x2="761" y2="337.5"/>
<path d="M765.5 320 q-1.5 3 0 7"/>
<line x1="748" y1="309.5" x2="748" y2="352.5"/>
<circle cx="813" cy="328.4" r="6.5"/>
<line x1="809.5" y1="328.4" x2="816.5" y2="328.4"/>
<path d="M832.35 319.5 A21.3 21.3 0 1 1 793.65 319.5"/>
<line x1="792.5" y1="328.4" x2="835" y2="328.4"/>
<path d="M828.84 330.63 A16 16 0 0 1 797.16 330.63"/>
<path d="M820.54 333.68 A9.2 9.2 0 0 1 805.46 333.68"/>
<line x1="801" y1="319.5" x2="801" y2="333.5"/>
<line x1="797.7" y1="319.5" x2="797.7" y2="333.5"/>
<rect x="797.7" y="333.5" width="6.7" height="4"/>
<line x1="802.2" y1="333.5" x2="802.2" y2="337.5"/>
<line x1="800" y1="333.5" x2="800" y2="337.5"/>
<path d="M795.5 320 q1.5 3 0 7"/>
<line x1="825" y1="319.5" x2="825" y2="333.5"/>
<line x1="828.3" y1="319.5" x2="828.3" y2="333.5"/>
<rect x="821.6" y="333.5" width="6.7" height="4"/>
<line x1="823.8" y1="333.5" x2="823.8" y2="337.5"/>
<line x1="826" y1="333.5" x2="826" y2="337.5"/>
<path d="M830.5 320 q-1.5 3 0 7"/>
<line x1="813" y1="309.5" x2="813" y2="352.5"/>
<line x1="308.5" y1="354" x2="308.5" y2="382.5"/>
<line x1="655" y1="304" x2="655" y2="310"/>
<line x1="813.3" y1="352.5" x2="813.3" y2="392"/>
<line x1="320.5" y1="345.2" x2="361.8" y2="345.2"/>
<line x1="608" y1="344.8" x2="843" y2="344.8"/>
<path d="M285.8 313 L285.8 320.5 L289.5 320.5 Z" fill="#fff"/>
<line x1="514.3" y1="321.5" x2="607.6" y2="321.5"/>
<line x1="514.3" y1="319.7" x2="514.3" y2="321.5"/>
<line x1="607.6" y1="319.7" x2="607.6" y2="321.5"/>
<line x1="515.9" y1="321.5" x2="515.9" y2="348"/>
<line x1="519.7" y1="321.5" x2="519.7" y2="348"/>
<line x1="534.5" y1="321.5" x2="534.5" y2="352.5"/>
<line x1="537.8" y1="321.5" x2="537.8" y2="352.5"/>
<line x1="583.6" y1="321.5" x2="583.6" y2="352.5"/>
<line x1="586.9" y1="321.5" x2="586.9" y2="352.5"/>
<line x1="602.2" y1="321.5" x2="602.2" y2="348"/>
<line x1="605.5" y1="321.5" x2="605.5" y2="348"/>
<line x1="515.9" y1="335" x2="519.7" y2="335"/>
<line x1="602.2" y1="335" x2="605.5" y2="335"/>
<line x1="534.5" y1="340" x2="537.8" y2="340"/>
<line x1="583.6" y1="340" x2="586.9" y2="340"/>
<path d="M514.3 348 L560.6 357.9 L607.6 348"/>
<path d="M514.3 348 L514.3 350.8 L560.6 361.1 L608.2 351.3 L608.2 348"/>
<line x1="537.8" y1="341.5" x2="583.6" y2="341.5"/>
<rect x="522.5" y="322" width="7.2" height="3.7"/>
<line x1="524.9" y1="322" x2="524.9" y2="325.7"/>
<line x1="527.3" y1="322" x2="527.3" y2="325.7"/>
<line x1="525.9" y1="309.8" x2="525.9" y2="330"/>
<rect x="592.4" y="322" width="7.2" height="3.7"/>
<line x1="594.8" y1="322" x2="594.8" y2="325.7"/>
<line x1="597.2" y1="322" x2="597.2" y2="325.7"/>
<line x1="595.8" y1="309.8" x2="595.8" y2="330"/>
<rect x="536.4" y="302.2" width="2.2" height="10.4"/>
<line x1="361.8" y1="345" x2="512.3" y2="345"/>
<line x1="361.8" y1="346.5" x2="512.3" y2="346.5"/>
<line x1="361.8" y1="345" x2="361.8" y2="375.5"/>
<line x1="512.3" y1="345" x2="512.3" y2="375.5"/>
<path d="M361.8 375.5 L365.1 375.5 L366.5 371 L371 371.5 L371 375.5 L374.6 375.5 L374.6 369.1 L386.9 369.1 L386.9 375.5 L390.1 375.5 L390.1 369.1 L400.6 369.1 L400.6 375.5 L405.9 375.5 L407.3 371 L411.8 371.5 L411.8 375.5 L415.4 375.5 L415.4 369.1 L427.7 369.1 L427.7 375.5 L430.9 375.5 L430.9 369.1 L441.4 369.1 L441.4 375.5 L446.5 375.5 L447.9 371 L452.4 371.5 L452.4 375.5 L456 375.5 L456 369.1 L468.3 369.1 L468.3 375.5 L471.5 375.5 L471.5 369.1 L482 369.1 L482 375.5 L487.3 375.5 L488.7 371 L493.2 371.5 L493.2 375.5 L496.8 375.5 L496.8 369.1 L509.1 369.1 L509.1 375.5 L512.3 375.5 L512.3 369.1 L512.3 369.1"/>
<circle cx="371" cy="357.7" r="7.3"/>
<circle cx="371" cy="357.7" r="5.2"/>
<circle cx="371" cy="357.7" r="2.6"/>
<line x1="371" y1="346.5" x2="371" y2="375"/>
<path d="M374.5 356 l3.5 -2.5 l1 4 z" fill="#fff"/>
<path d="M367 363.5 l5 1 l-1 3.5 l-5 -1 z" fill="#fff"/>
<circle cx="369.5" cy="363.5" r="2.2"/>
<line x1="387.2" y1="346.5" x2="387.2" y2="361.5"/>
<line x1="389.8" y1="346.5" x2="389.8" y2="361.5"/>
<path d="M377.8 356 C379 351.5 382 349 387.2 348.6"/>
<path d="M389.8 348.6 C395 349 399 351.5 400.6 357"/>
<line x1="376" y1="361.8" x2="403" y2="361.8"/>
<line x1="374" y1="366.8" x2="405" y2="366.8"/>
<line x1="374.6" y1="361.8" x2="374.6" y2="369.1"/>
<line x1="386.9" y1="361.8" x2="386.9" y2="369.1"/>
<line x1="390.1" y1="361.8" x2="390.1" y2="369.1"/>
<line x1="400.6" y1="361.8" x2="400.6" y2="369.1"/>
<path d="M362.26 354.52 A9.3 9.3 0 0 1 379.74 354.52"/>
<path d="M363.5 352 q-2.5 5 0 11"/>
<path d="M378.5 352 q2.5 5 0 11"/>
<line x1="365" y1="351" x2="362" y2="347"/>
<line x1="376" y1="350.5" x2="380" y2="347"/>
<rect x="378.7" y="358.8" width="6.8" height="3"/>
<line x1="382.1" y1="358.8" x2="382.1" y2="361.8"/>
<line x1="382.1" y1="361.8" x2="382.1" y2="375"/>
<rect x="392.8" y="358.8" width="6.8" height="3"/>
<line x1="396.2" y1="358.8" x2="396.2" y2="361.8"/>
<line x1="396.2" y1="361.8" x2="396.2" y2="375"/>
<line x1="377.3" y1="369.1" x2="377.3" y2="373"/>
<line x1="391.9" y1="369.1" x2="391.9" y2="373"/>
<line x1="379.1" y1="369.1" x2="379.1" y2="373"/>
<line x1="393.7" y1="369.1" x2="393.7" y2="373"/>
<line x1="380.9" y1="369.1" x2="380.9" y2="373"/>
<line x1="395.5" y1="369.1" x2="395.5" y2="373"/>
<line x1="382.7" y1="369.1" x2="382.7" y2="373"/>
<line x1="397.3" y1="369.1" x2="397.3" y2="373"/>
<line x1="384.5" y1="369.1" x2="384.5" y2="373"/>
<line x1="399.1" y1="369.1" x2="399.1" y2="373"/>
<line x1="386.3" y1="369.1" x2="386.3" y2="373"/>
<line x1="400.9" y1="369.1" x2="400.9" y2="373"/>
<circle cx="411.8" cy="357.7" r="7.3"/>
<circle cx="411.8" cy="357.7" r="5.2"/>
<circle cx="411.8" cy="357.7" r="2.6"/>
<line x1="411.8" y1="346.5" x2="411.8" y2="375"/>
<path d="M415.3 356 l3.5 -2.5 l1 4 z" fill="#fff"/>
<path d="M407.8 363.5 l5 1 l-1 3.5 l-5 -1 z" fill="#fff"/>
<circle cx="410.3" cy="363.5" r="2.2"/>
<line x1="428" y1="346.5" x2="428" y2="361.5"/>
<line x1="430.6" y1="346.5" x2="430.6" y2="361.5"/>
<path d="M418.6 356 C419.8 351.5 422.8 349 428 348.6"/>
<path d="M430.6 348.6 C435.8 349 439.8 351.5 441.4 357"/>
<line x1="416.8" y1="361.8" x2="443.8" y2="361.8"/>
<line x1="414.8" y1="366.8" x2="445.8" y2="366.8"/>
<line x1="415.4" y1="361.8" x2="415.4" y2="369.1"/>
<line x1="427.7" y1="361.8" x2="427.7" y2="369.1"/>
<line x1="430.9" y1="361.8" x2="430.9" y2="369.1"/>
<line x1="441.4" y1="361.8" x2="441.4" y2="369.1"/>
<path d="M403.06 354.52 A9.3 9.3 0 0 1 420.54 354.52"/>
<path d="M404.3 352 q-2.5 5 0 11"/>
<path d="M419.3 352 q2.5 5 0 11"/>
<line x1="405.8" y1="351" x2="402.8" y2="347"/>
<line x1="416.8" y1="350.5" x2="420.8" y2="347"/>
<rect x="419.5" y="358.8" width="6.8" height="3"/>
<line x1="422.9" y1="358.8" x2="422.9" y2="361.8"/>
<line x1="422.9" y1="361.8" x2="422.9" y2="375"/>
<rect x="433.6" y="358.8" width="6.8" height="3"/>
<line x1="437" y1="358.8" x2="437" y2="361.8"/>
<line x1="437" y1="361.8" x2="437" y2="375"/>
<line x1="418.1" y1="369.1" x2="418.1" y2="373"/>
<line x1="432.7" y1="369.1" x2="432.7" y2="373"/>
<line x1="419.9" y1="369.1" x2="419.9" y2="373"/>
<line x1="434.5" y1="369.1" x2="434.5" y2="373"/>
<line x1="421.7" y1="369.1" x2="421.7" y2="373"/>
<line x1="436.3" y1="369.1" x2="436.3" y2="373"/>
<line x1="423.5" y1="369.1" x2="423.5" y2="373"/>
<line x1="438.1" y1="369.1" x2="438.1" y2="373"/>
<line x1="425.3" y1="369.1" x2="425.3" y2="373"/>
<line x1="439.9" y1="369.1" x2="439.9" y2="373"/>
<line x1="427.1" y1="369.1" x2="427.1" y2="373"/>
<line x1="441.7" y1="369.1" x2="441.7" y2="373"/>
<circle cx="452.4" cy="357.7" r="7.3"/>
<circle cx="452.4" cy="357.7" r="5.2"/>
<circle cx="452.4" cy="357.7" r="2.6"/>
<line x1="452.4" y1="346.5" x2="452.4" y2="375"/>
<path d="M455.9 356 l3.5 -2.5 l1 4 z" fill="#fff"/>
<path d="M448.4 363.5 l5 1 l-1 3.5 l-5 -1 z" fill="#fff"/>
<circle cx="450.9" cy="363.5" r="2.2"/>
<line x1="468.6" y1="346.5" x2="468.6" y2="361.5"/>
<line x1="471.2" y1="346.5" x2="471.2" y2="361.5"/>
<path d="M459.2 356 C460.4 351.5 463.4 349 468.6 348.6"/>
<path d="M471.2 348.6 C476.4 349 480.4 351.5 482 357"/>
<line x1="457.4" y1="361.8" x2="484.4" y2="361.8"/>
<line x1="455.4" y1="366.8" x2="486.4" y2="366.8"/>
<line x1="456" y1="361.8" x2="456" y2="369.1"/>
<line x1="468.3" y1="361.8" x2="468.3" y2="369.1"/>
<line x1="471.5" y1="361.8" x2="471.5" y2="369.1"/>
<line x1="482" y1="361.8" x2="482" y2="369.1"/>
<path d="M443.66 354.52 A9.3 9.3 0 0 1 461.14 354.52"/>
<path d="M444.9 352 q-2.5 5 0 11"/>
<path d="M459.9 352 q2.5 5 0 11"/>
<line x1="446.4" y1="351" x2="443.4" y2="347"/>
<line x1="457.4" y1="350.5" x2="461.4" y2="347"/>
<rect x="460.1" y="358.8" width="6.8" height="3"/>
<line x1="463.5" y1="358.8" x2="463.5" y2="361.8"/>
<line x1="463.5" y1="361.8" x2="463.5" y2="375"/>
<rect x="474.2" y="358.8" width="6.8" height="3"/>
<line x1="477.6" y1="358.8" x2="477.6" y2="361.8"/>
<line x1="477.6" y1="361.8" x2="477.6" y2="375"/>
<line x1="458.7" y1="369.1" x2="458.7" y2="373"/>
<line x1="473.3" y1="369.1" x2="473.3" y2="373"/>
<line x1="460.5" y1="369.1" x2="460.5" y2="373"/>
<line x1="475.1" y1="369.1" x2="475.1" y2="373"/>
<line x1="462.3" y1="369.1" x2="462.3" y2="373"/>
<line x1="476.9" y1="369.1" x2="476.9" y2="373"/>
<line x1="464.1" y1="369.1" x2="464.1" y2="373"/>
<line x1="478.7" y1="369.1" x2="478.7" y2="373"/>
<line x1="465.9" y1="369.1" x2="465.9" y2="373"/>
<line x1="480.5" y1="369.1" x2="480.5" y2="373"/>
<line x1="467.7" y1="369.1" x2="467.7" y2="373"/>
<line x1="482.3" y1="369.1" x2="482.3" y2="373"/>
<circle cx="493.2" cy="357.7" r="7.3"/>
<circle cx="493.2" cy="357.7" r="5.2"/>
<circle cx="493.2" cy="357.7" r="2.6"/>
<line x1="493.2" y1="346.5" x2="493.2" y2="375"/>
<path d="M496.7 356 l3.5 -2.5 l1 4 z" fill="#fff"/>
<path d="M489.2 363.5 l5 1 l-1 3.5 l-5 -1 z" fill="#fff"/>
<circle cx="491.7" cy="363.5" r="2.2"/>
<line x1="509.4" y1="346.5" x2="509.4" y2="361.5"/>
<line x1="512" y1="346.5" x2="512" y2="361.5"/>
<path d="M500 356 C501.2 351.5 504.2 349 509.4 348.6"/>
<line x1="498.2" y1="361.8" x2="512.3" y2="361.8"/>
<line x1="496.2" y1="366.8" x2="512.3" y2="366.8"/>
<line x1="496.8" y1="361.8" x2="496.8" y2="369.1"/>
<line x1="509.1" y1="361.8" x2="509.1" y2="369.1"/>
<path d="M484.46 354.52 A9.3 9.3 0 0 1 501.94 354.52"/>
<path d="M485.7 352 q-2.5 5 0 11"/>
<path d="M500.7 352 q2.5 5 0 11"/>
<line x1="487.2" y1="351" x2="484.2" y2="347"/>
<line x1="498.2" y1="350.5" x2="502.2" y2="347"/>
<rect x="500.9" y="358.8" width="6.8" height="3"/>
<line x1="504.3" y1="358.8" x2="504.3" y2="361.8"/>
<line x1="504.3" y1="361.8" x2="504.3" y2="375"/>
<line x1="499.5" y1="369.1" x2="499.5" y2="373"/>
<line x1="501.3" y1="369.1" x2="501.3" y2="373"/>
<line x1="503.1" y1="369.1" x2="503.1" y2="373"/>
<line x1="504.9" y1="369.1" x2="504.9" y2="373"/>
<line x1="506.7" y1="369.1" x2="506.7" y2="373"/>
<line x1="508.5" y1="369.1" x2="508.5" y2="373"/>
<line x1="513.7" y1="347.7" x2="534.5" y2="354.6"/>
<line x1="513.7" y1="350" x2="534.5" y2="356.5"/>
<line x1="835.7" y1="322.5" x2="842.5" y2="322.5"/>
<rect x="692.3" y="248.4" width="5.5" height="63.6"/>
<line x1="692.3" y1="263.3" x2="697.8" y2="263.3"/>
<line x1="692.3" y1="307.7" x2="697.8" y2="307.7"/>
<line x1="697.8" y1="271.3" x2="739.2" y2="271.3" stroke-dasharray="12 3"/>
<line x1="697.8" y1="273.8" x2="795" y2="273.8" stroke-dasharray="12 3"/>
<path d="M739.2 268.4 L755.6 268.4 L755.6 270.9 L800 270.9 L800 268.4 L815.6 268.4 L815.6 281.5 L739.2 281.5 Z"/>
<line x1="760" y1="270" x2="760" y2="271.5"/>
<line x1="765" y1="270" x2="765" y2="271.5"/>
<line x1="770" y1="270" x2="770" y2="271.5"/>
<line x1="775" y1="270" x2="775" y2="271.5"/>
<line x1="780" y1="270" x2="780" y2="271.5"/>
<line x1="785" y1="270" x2="785" y2="271.5"/>
<line x1="790" y1="270" x2="790" y2="271.5"/>
<line x1="795" y1="270" x2="795" y2="271.5"/>
<line x1="794.9" y1="272.8" x2="835" y2="299"/>
<line x1="797.3" y1="271.6" x2="835" y2="296.4"/>
<rect x="709" y="277.1" width="22.9" height="15.3" rx="3.8"/>
<line x1="748.3" y1="304.8" x2="748.3" y2="310"/>
<line x1="813.4" y1="304" x2="813.4" y2="310"/>
<line x1="835.7" y1="252.6" x2="842.2" y2="252.6"/>
<line x1="835.7" y1="264.7" x2="842.2" y2="264.7"/>
<line x1="835.7" y1="297.5" x2="842.2" y2="297.5"/>
<path d="M918.7 227.8 A56.6 56.6 0 0 1 918.7 341"/>
<path d="M913.52 343.57 A59.4 59.4 0 0 1 901.33 227.6"/>
<circle cx="918.7" cy="284.4" r="53.2"/>
<circle cx="918.7" cy="284.4" r="50.8"/>
<circle cx="918.7" cy="284.4" r="49.3"/>
<circle cx="918.7" cy="284.4" r="44.5"/>
<circle cx="918.7" cy="284.4" r="41.5"/>
<circle cx="918.7" cy="236.5" r="2.6"/>
<line x1="918.7" y1="241.5" x2="918.7" y2="231"/>
<line x1="915.1" y1="236.5" x2="922.3" y2="236.5"/>
<circle cx="932.19" cy="238.44" r="2.6"/>
<line x1="930.79" y1="243.24" x2="933.74" y2="233.16"/>
<line x1="928.74" y1="237.43" x2="935.65" y2="239.45"/>
<circle cx="944.6" cy="244.1" r="2.6"/>
<line x1="941.89" y1="248.31" x2="947.57" y2="239.48"/>
<line x1="941.57" y1="242.16" x2="947.63" y2="246.05"/>
<circle cx="954.9" cy="253.03" r="2.6"/>
<line x1="951.12" y1="256.31" x2="959.06" y2="249.43"/>
<line x1="952.54" y1="250.31" x2="957.26" y2="255.75"/>
<circle cx="962.27" cy="264.5" r="2.6"/>
<line x1="957.72" y1="266.58" x2="967.27" y2="262.22"/>
<line x1="960.78" y1="261.23" x2="963.77" y2="267.78"/>
<circle cx="966.11" cy="277.58" r="2.6"/>
<line x1="961.16" y1="278.29" x2="971.56" y2="276.8"/>
<line x1="965.6" y1="274.02" x2="966.62" y2="281.15"/>
<circle cx="966.11" cy="291.22" r="2.6"/>
<line x1="961.16" y1="290.51" x2="971.56" y2="292"/>
<line x1="966.62" y1="287.65" x2="965.6" y2="294.78"/>
<circle cx="962.27" cy="304.3" r="2.6"/>
<line x1="957.72" y1="302.22" x2="967.27" y2="306.58"/>
<line x1="963.77" y1="301.02" x2="960.78" y2="307.57"/>
<circle cx="954.9" cy="315.77" r="2.6"/>
<line x1="951.12" y1="312.49" x2="959.06" y2="319.37"/>
<line x1="957.26" y1="313.05" x2="952.54" y2="318.49"/>
<circle cx="944.6" cy="324.7" r="2.6"/>
<line x1="941.89" y1="320.49" x2="947.57" y2="329.32"/>
<line x1="947.63" y1="322.75" x2="941.57" y2="326.64"/>
<circle cx="932.19" cy="330.36" r="2.6"/>
<line x1="930.79" y1="325.56" x2="933.74" y2="335.64"/>
<line x1="935.65" y1="329.35" x2="928.74" y2="331.37"/>
<circle cx="918.7" cy="332.3" r="2.6"/>
<line x1="918.7" y1="327.3" x2="918.7" y2="337.8"/>
<line x1="922.3" y1="332.3" x2="915.1" y2="332.3"/>
<circle cx="905.21" cy="330.36" r="2.6"/>
<line x1="906.61" y1="325.56" x2="903.66" y2="335.64"/>
<line x1="908.66" y1="331.37" x2="901.75" y2="329.35"/>
<circle cx="892.8" cy="324.7" r="2.6"/>
<line x1="895.51" y1="320.49" x2="889.83" y2="329.32"/>
<line x1="895.83" y1="326.64" x2="889.77" y2="322.75"/>
<circle cx="882.5" cy="315.77" r="2.6"/>
<line x1="886.28" y1="312.49" x2="878.34" y2="319.37"/>
<line x1="884.86" y1="318.49" x2="880.14" y2="313.05"/>
<circle cx="875.13" cy="304.3" r="2.6"/>
<line x1="879.68" y1="302.22" x2="870.13" y2="306.58"/>
<line x1="876.62" y1="307.57" x2="873.63" y2="301.02"/>
<circle cx="871.29" cy="291.22" r="2.6"/>
<line x1="876.24" y1="290.51" x2="865.84" y2="292"/>
<line x1="871.8" y1="294.78" x2="870.78" y2="287.65"/>
<circle cx="871.29" cy="277.58" r="2.6"/>
<line x1="876.24" y1="278.29" x2="865.84" y2="276.8"/>
<line x1="870.78" y1="281.15" x2="871.8" y2="274.02"/>
<circle cx="875.13" cy="264.5" r="2.6"/>
<line x1="879.68" y1="266.58" x2="870.13" y2="262.22"/>
<line x1="873.63" y1="267.78" x2="876.62" y2="261.23"/>
<circle cx="882.5" cy="253.03" r="2.6"/>
<line x1="886.28" y1="256.31" x2="878.34" y2="249.43"/>
<line x1="880.14" y1="255.75" x2="884.86" y2="250.31"/>
<circle cx="892.8" cy="244.1" r="2.6"/>
<line x1="895.51" y1="248.31" x2="889.83" y2="239.48"/>
<line x1="889.77" y1="246.05" x2="895.83" y2="242.16"/>
<circle cx="905.21" cy="238.44" r="2.6"/>
<line x1="906.61" y1="243.24" x2="903.66" y2="233.16"/>
<line x1="901.75" y1="239.45" x2="908.66" y2="237.43"/>
<circle cx="928.9" cy="246.34" r="2.6" fill="#fff" stroke="none"/>
<line x1="927.73" y1="250.69" x2="929.67" y2="243.44"/>
<circle cx="946.56" cy="256.54" r="2.6" fill="#fff" stroke="none"/>
<line x1="943.38" y1="259.72" x2="948.68" y2="254.42"/>
<circle cx="956.76" cy="274.2" r="2.6" fill="#fff" stroke="none"/>
<line x1="952.41" y1="275.37" x2="959.66" y2="273.43"/>
<circle cx="956.76" cy="294.6" r="2.6" fill="#fff" stroke="none"/>
<line x1="952.41" y1="293.43" x2="959.66" y2="295.37"/>
<circle cx="946.56" cy="312.26" r="2.6" fill="#fff" stroke="none"/>
<line x1="943.38" y1="309.08" x2="948.68" y2="314.38"/>
<circle cx="928.9" cy="322.46" r="2.6" fill="#fff" stroke="none"/>
<line x1="927.73" y1="318.11" x2="929.67" y2="325.36"/>
<circle cx="908.5" cy="322.46" r="2.6" fill="#fff" stroke="none"/>
<line x1="909.67" y1="318.11" x2="907.73" y2="325.36"/>
<circle cx="890.84" cy="312.26" r="2.6" fill="#fff" stroke="none"/>
<line x1="894.02" y1="309.08" x2="888.72" y2="314.38"/>
<circle cx="880.64" cy="294.6" r="2.6" fill="#fff" stroke="none"/>
<line x1="884.99" y1="293.43" x2="877.74" y2="295.37"/>
<circle cx="880.64" cy="274.2" r="2.6" fill="#fff" stroke="none"/>
<line x1="884.99" y1="275.37" x2="877.74" y2="273.43"/>
<circle cx="890.84" cy="256.54" r="2.6" fill="#fff" stroke="none"/>
<line x1="894.02" y1="259.72" x2="888.72" y2="254.42"/>
<circle cx="908.5" cy="246.34" r="2.6" fill="#fff" stroke="none"/>
<line x1="909.67" y1="250.69" x2="907.73" y2="243.44"/>
<path d="M915.9 268.4 l2.8 -2.6 l2.8 2.6 l-2.8 2.6 z" fill="#fff"/>
<line x1="912.7" y1="268.4" x2="924.7" y2="268.4"/>
<rect x="908.8" y="274.6" width="20.1" height="6.8"/>
<line x1="918.7" y1="274.6" x2="918.7" y2="281.4"/>
<path d="M943.97 300.19 A29.8 29.8 0 0 1 893.43 300.19 L901.99 294.84 A19.7 19.7 0 0 0 935.41 294.84 Z"/>
<path d="M885.97 339.4 L881.07 339.23 L876.63 341.34 L873.55 340.23 L871.82 337.46 L872.96 332.67 L871.8 327.95 L867.15 326.41 L862.29 327.19 L859.66 325.25 L858.78 322.11 L861.21 317.83 L861.43 312.98 L857.41 310.19 L852.52 309.56 L850.54 306.97 L850.58 303.7 L854.13 300.29 L855.7 295.69 L852.62 291.88 L848.11 289.91 L846.94 286.86 L847.9 283.73 L852.27 281.45 L855.07 277.49 L853.19 272.97 L849.42 269.8 L849.16 266.54 L850.96 263.82 L855.79 262.86 L859.6 259.85 L859.06 254.98 L856.34 250.88 L857 247.68 L859.5 245.57"/>
<line x1="864.1" y1="237.9" x2="879.7" y2="225.9"/>
<line x1="865.4" y1="239.2" x2="881" y2="227.2"/>
<path d="M842.6 241.2 L860.7 239.5 L866.9 240.7 L866.9 250.7"/>
<line x1="857.4" y1="249" x2="866.9" y2="240.7"/>
<line x1="855.7" y1="242.9" x2="866.3" y2="249"/>
<line x1="843.9" y1="249" x2="853.4" y2="253.5"/>
<line x1="853.4" y1="253.5" x2="868.5" y2="259.7"/>
<path d="M853.4 253.5 L852.9 260.8 L850.1 269.7 L847.9 274.2"/>
<line x1="845.6" y1="262.5" x2="859" y2="266.4"/>
<path d="M859 258.5 L859 266.4 L851.8 272"/>
<line x1="848.4" y1="279.8" x2="848.4" y2="286.5"/>
<path d="M843 317 L858 322 L870 332"/>
<path d="M843 322.5 L856 329 L866 341"/>
<line x1="843" y1="343.3" x2="912" y2="343.3"/>
<path transform="translate(223 494.2)" d="M1.8 2.6L3.6 0V13.7"/>
<line x1="228.9" y1="502.7" x2="234.3" y2="502.7"/>
<line x1="235.7" y1="502.7" x2="241.8" y2="502.7"/>
<path transform="translate(243 494.3)" d="M3.35 0 V15.7 M0 4.2 H6.91 M2.47 4.2 L1.28 9 M1.97 7.3 H5.92 M0 12.6 H2.17 L4.93 10.5 H6.91"/>
<path transform="translate(250.8 494.3)" d="M2.27 0 V5.5 M0.3 2.5 H4.14 L3.55 7 M0.3 7 L2.27 5.5 M4.83 1.8 H6.91 V5.8 H4.83 ZM0 9.6 H6.91 M3.35 7.5 V15.7 M3.35 10.5 L0.3 15.2 M3.35 10.5 L6.91 14.5"/>
<path transform="translate(258.6 494.3)" d="M0.99 0.8 L1.97 3 M4.93 0.5 L3.95 3 M1.18 4 H5.13 V8.3 H1.18 ZM0.3 10.5 V13.5 M1.97 9.5 L2.76 14.2 Q4.44 15.5 5.92 14.5 V13 M3.95 10.3 L4.54 12 M6.21 10 L6.81 12"/>
<path transform="translate(266.4 494.3)" d="M0.99 3.8 H6.71 M1.58 3.8 V9 Q1.48 13 0.2 15.2 M1.58 7.2 H4.14 L3.75 11.5 L2.96 10.8 M3.55 0.3 Q4.14 9 6.51 13.8 L7.1 15.7 V13 M5.72 0.8 L6.51 2.2 M6.51 8 L4.54 13.2"/>
<path transform="translate(317.2 494.2)" d="M0.3 3Q0.3 0 2.8 0Q5.3 0 5.3 3Q5.3 5.5 0.3 13.7H5.6"/>
<line x1="325.1" y1="502.7" x2="330.6" y2="502.7"/>
<line x1="331.9" y1="502.7" x2="337.4" y2="502.7"/>
<path transform="translate(340.2 494.3)" d="M0.55 0 V8.5 H4.21 M0.55 2.6 H4.21 V6 H0.55 M-1.37 10.2 H4.57 M2.93 8.5 V16 L1.65 14.6 M0.37 12 L1.1 13.6"/>
<path transform="translate(347.47 494.3)" d="M2.93 0.8 L2.38 3.5 M0.37 3.5 V15.5 M0.37 3.5 H5.94 V16 L4.85 14.8 M2.01 6.8 H4.39 V10.8 H2.01 Z"/>
<path transform="translate(354.73 494.3)" d="M1.83 0.5 V16 M0 3.6 H3.29 M1.37 3.6 L0.55 8.2 H3.29 M0 12 H3.47 M5.12 0.5 L3.57 6.2 M5.12 0.5 L6.95 6 M4.48 7.2 V14.6 H6.68 V13 M6.58 8 L4.57 10.8"/>
<path transform="translate(394.1 494.2)" d="M0.3 0H5.3L2.5 5.5Q5.5 5.5 5.5 9.6Q5.5 13.7 2.8 13.7Q0.5 13.7 0.2 11"/>
<line x1="402.3" y1="502.7" x2="407.8" y2="502.7"/>
<line x1="409.1" y1="502.7" x2="414.6" y2="502.7"/>
<path transform="translate(416 494.3)" d="M0.3 1 H2.77 V4 H0.49 V7.5 H2.77 V13.5 L1.78 12.5 M4.15 0.5 V15.5 M6.43 1 L4.15 4.5 M3.16 7 H7.12 M4.15 7 L7.12 15 M4.15 15.5 L5.73 13"/>
<path transform="translate(423.82 494.3)" d="M0.79 0.5 V5.5 M2.27 0.5 V5.5 M3.76 1.2 H6.72 L3.95 5.8 M4.45 2.5 L6.92 5.8 M3.46 6 L0.99 8.5 H5.44 L1.19 11 H6.43 M3.46 11 V15.7 M1.48 12.5 L0.3 15 M5.44 12.5 L6.72 15"/>
<path transform="translate(431.63 494.3)" d="M1.98 0.5 L0.49 3.5 H2.47 L0.3 7.5 H2.77 M0.3 10.5 L2.97 9.5 M6.43 0.5 L3.76 1.5 M3.95 2.5 L4.25 4 M5.24 2.3 L5.44 4 M6.92 2 L6.23 4.2 M3.46 5.5 H7.12 M3.26 8 H7.12 M4.94 5.5 L3.16 15.5 M4.45 10 H6.72 L3.46 15.5 M4.45 10 L7.12 15.5"/>
<path transform="translate(439.45 494.3)" d="M0.49 2.5 L1.48 4.5 M0.3 12.5 L1.78 8.5 M2.77 4 H6.92 V9.5 H2.77 ZM4.84 0.3 V15.7"/>
<path transform="translate(447.27 494.3)" d="M1.29 0.3 V6.5 M0 2 L0.79 3.2 M0 6 L1.29 5 M2.47 2.5 H6.92 M4.75 0.3 V6 M2.77 6 H6.72 M3.46 7 L3.76 8.2 M0 8.8 H7.12 M3.46 8.8 L0.2 13 M1.98 11 V15.5 L3.46 14.5 M6.72 10 L4.45 12.5 M3.46 10.5 L7.12 15.5"/>
<path transform="translate(455.08 494.3)" d="M0.49 0.8 H6.43 V3.5 H0.49 ZM2.47 0.8 V3.5 M4.45 0.8 V3.5 M0.3 5 H6.72 M3.46 3.8 V6.3 M1.29 6.3 H5.73 V13.2 H1.29 ZM1.29 8.6 H5.73 M1.29 10.9 H5.73 M0 15 H7.22 M0.3 6.3 V15"/>
<path transform="translate(513.9 494.2)" d="M4.2 13.7V0L0 9.6H5.9"/>
<line x1="521.8" y1="502.7" x2="527.7" y2="502.7"/>
<line x1="529" y1="502.7" x2="534.9" y2="502.7"/>
<path transform="translate(536.8 494.3)" d="M0.98 0.5 H6.37 V3 H0.98 M0.98 0.5 V9 Q0.78 13 0 15.5 M2.74 4 L1.76 6 M2.74 6.5 L1.57 8.5 M2.25 8 V15 M4.9 3.5 L3.72 5 M3.92 5 H6.86 M4.11 6.5 H6.66 V9.5 H4.11 ZM4.11 8 H6.66 M5.39 10 L3.72 12.5 M4.41 11.2 H6.66 L3.43 15.5 M4.7 12 L7.05 15.5"/>
<path transform="translate(544.55 494.3)" d="M0 2.3 H7.05 M1.76 0.3 V4.5 M3.53 0.3 V4.5 M5.29 0.3 V4.5 M0.29 5 V7 M0.29 5 H6.86 V6.8 M1.27 8.5 V13.5 M1.27 8.5 H5.88 V13 L5.09 12.5 M3.53 6.5 V15.7"/>
<path transform="translate(552.3 494.3)" d="M0.98 0.8 L1.96 3 M4.9 0.5 L3.92 3 M1.18 4 H5.09 V8.3 H1.18 ZM0.29 10.5 V13.5 M1.96 9.5 L2.74 14.2 Q4.41 15.5 5.88 14.5 V13 M3.92 10.3 L4.51 12 M6.17 10 L6.76 12"/>
<path transform="translate(560.05 494.3)" d="M0.98 3.8 H6.66 M1.57 3.8 V9 Q1.47 13 0.2 15.2 M1.57 7.2 H4.11 L3.72 11.5 L2.94 10.8 M3.53 0.3 Q4.11 9 6.47 13.8 L7.05 15.7 V13 M5.68 0.8 L6.47 2.2 M6.47 8 L4.51 13.2"/>
<path transform="translate(612.8 494.2)" d="M5.2 0H0.9L0.5 6Q1.5 5 3 5Q5.5 5 5.5 9.3Q5.5 13.7 2.8 13.7Q0.6 13.7 0.2 11.2"/>
<line x1="620.3" y1="502.7" x2="626.2" y2="502.7"/>
<line x1="627.5" y1="502.7" x2="633" y2="502.7"/>
<path transform="translate(635 494.3)" d="M0 3.5 H2.85 M1.52 0.3 V15 L0.57 14 M0 10 L2.85 8 M6.46 1 L3.61 2.5 M3.14 7 L6.84 6 M4.75 2.2 V14.5 H6.84 V12.8"/>
<path transform="translate(642.53 494.3)" d="M1.43 0.3 L0.19 3 M0.95 2 H2.85 M0.29 5 H2.85 M0 8 H2.85 M1.43 5 V14.5 L2.85 13 M3.42 1.5 L4.09 3 M3.33 5.5 H4.28 V12 L3.14 14 M4.09 12.5 L6.94 15.5 M4.56 2.3 H6.94 M5.7 0.5 L4.75 6 H6.94 M4.75 9 H6.94 M5.99 4 V12.5"/>
<path transform="translate(650.07 494.3)" d="M1.9 0.5 V16 M0 3.6 H3.42 M1.43 3.6 L0.57 8.2 H3.42 M0 12 H3.61 M5.32 0.5 L3.71 6.2 M5.32 0.5 L7.22 6 M4.66 7.2 V14.6 H6.94 V13 M6.84 8 L4.75 10.8"/>
<path transform="translate(699.8 494.2)" d="M5 1.6Q4.5 0 3 0Q0.3 0 0.3 6.5V10Q0.3 13.7 2.9 13.7Q5.5 13.7 5.5 9.9Q5.5 6.1 2.9 6.1Q0.8 6.1 0.3 8.6"/>
<line x1="707.1" y1="502.7" x2="713.5" y2="502.7"/>
<line x1="714.9" y1="502.7" x2="720.3" y2="502.7"/>
<path transform="translate(721.3 494.3)" d="M0.3 3 H7 M3.6 0.3 V5.8 M1 6 H6 L0.3 15.5 M1.5 7.5 L7.2 15.5"/>
<path transform="translate(729.2 494.3)" d="M6 0.5 L1.5 1.5 M0.3 3 H7 M3.6 1.2 V14.8 M1.2 4.8 H6 V10.2 H1.2 ZM1.2 6.6 H6 M1.2 8.4 H6 M0.6 12.3 H6.6 M0 14.8 H7.3"/>
<path transform="translate(737.1 494.3)" d="M2 0.5 V16 M0 3.6 H3.6 M1.5 3.6 L0.6 8.2 H3.6 M0 12 H3.8 M5.6 0.5 L3.9 6.2 M5.6 0.5 L7.6 6 M4.9 7.2 V14.6 H7.3 V13 M7.2 8 L5 10.8"/>
<path transform="translate(780 494.2)" d="M0.2 0H5.5L2 13.7"/>
<line x1="787.6" y1="502.7" x2="793.9" y2="502.7"/>
<line x1="795.2" y1="502.7" x2="801.1" y2="502.7"/>
<path transform="translate(802.6 494.3)" d="M0.28 1 H2.42 L2.14 5.5 M0.75 1 V5.5 H2.8 V12.8 L1.86 12 M0 9.5 L2.33 8.5 M6.71 1.2 H3.54 V14.8 H6.81 M4.2 4 L6.34 11 M6.34 4 L4.2 11"/>
<path transform="translate(810 494.3)" d="M0.47 2 H2.8 M0 5.5 H3.26 M1.68 5.5 L0.47 11 H2.61 M2.14 8.5 L3.08 12 M3.54 4 H6.71 V12 Q6.71 15 5.41 14 M4.94 0.5 V6 Q4.66 12 3.26 15.5"/>
<path transform="translate(817.4 494.3)" d="M1.86 0.5 V16 M0 3.6 H3.36 M1.4 3.6 L0.56 8.2 H3.36 M0 12 H3.54 M5.22 0.5 L3.64 6.2 M5.22 0.5 L7.09 6 M4.57 7.2 V14.6 H6.81 V13 M6.71 8 L4.66 10.8"/>
<path transform="translate(876.1 494.2)" d="M2.9 0Q0.6 0 0.6 3Q0.6 6 2.9 6Q5.2 6 5.2 3Q5.2 0 2.9 0M2.9 6Q0.2 6 0.2 9.9Q0.2 13.7 2.9 13.7Q5.6 13.7 5.6 9.9Q5.6 6 2.9 6"/>
<line x1="884.1" y1="502.7" x2="890.3" y2="502.7"/>
<line x1="891.5" y1="502.7" x2="897" y2="502.7"/>
<path transform="translate(898 494.3)" d="M2.25 0.3 L0.29 3 M2.45 4 L0.2 8 M1.47 6.5 V15.5 M3.72 2 H6.85 M3.23 6.5 H7.14 M5.48 6.5 V15 L4.4 14"/>
<path transform="translate(905.74 494.3)" d="M0.78 2.5 H6.17 M3.52 0.3 V6.3 M0 6.3 H7.05 M3.52 6.3 V12 M3.52 9 H6.36 M1.76 8.5 L0.2 15 M1.17 11.5 L3.43 14.5 L7.14 15.3"/>
<path transform="translate(913.49 494.3)" d="M0.78 1 H5.09 L4.7 7 M1.47 1 V7 H6.36 V13 Q6.36 15.5 4.7 14.5 M0 11 L4.89 9.8"/>
<path transform="translate(921.23 494.3)" d="M0.78 1 L1.76 2.8 M0 6 H1.57 V12 L0.29 14 M1.47 12.5 L7.14 15.3 M2.74 4.2 H7.14 M4.89 0.5 V5 Q4.7 9.5 2.74 12 M4.89 5.5 Q5.38 9.5 7.14 12"/>
<path transform="translate(928.97 494.3)" d="M0.29 2.5 L1.17 4.5 M0.2 12.5 L1.27 8.5 M1.96 3 H7.05 M2.25 3 V9 Q2.15 13 1.57 15.5 M2.94 5.5 H4.7 M2.94 7.2 H4.5 V10.5 H2.94 ZM5.09 0.3 Q5.38 9 6.85 14 L7.24 15.6 V13 M6.36 0.8 L7.05 2 M6.85 7 L5.09 13"/>
<path transform="translate(936.71 494.3)" d="M0.78 1 L1.76 2.8 M0 6 H1.57 V12 L0.29 14 M1.47 12.5 L7.14 15.3 M2.74 2.2 H7.14 M4.89 0.3 V12.2 M3.23 4.2 H6.66 V7.5 H3.23 ZM4.89 8 L2.74 11.5 M4.89 8 L7.14 11.5"/>
<path transform="translate(944.46 494.3)" d="M0 3.8 H3.23 M1.57 0.3 V15.5 M1.57 4.5 L0 10 M1.57 4.5 L3.13 8 M4.11 1.5 H6.17 V13.5 L7.24 14.5 V12.5 M4.11 1.5 V8 Q4.01 13 3.13 15.5"/>
<path d="M210 240h1v1h-1zM213 240h1v1h-1zM214 240h1v1h-1zM215 240h1v1h-1zM217 240h1v1h-1zM211 241h1v1h-1zM212 241h1v1h-1zM215 241h1v1h-1zM216 241h1v1h-1zM210 242h1v1h-1zM211 242h1v1h-1zM212 242h1v1h-1zM215 242h1v1h-1zM217 242h1v1h-1zM210 243h1v1h-1zM213 243h1v1h-1zM214 243h1v1h-1zM217 243h1v1h-1zM210 244h1v1h-1zM213 244h1v1h-1zM214 244h1v1h-1zM217 244h1v1h-1zM211 245h1v1h-1zM212 245h1v1h-1zM215 245h1v1h-1zM216 245h1v1h-1zM211 246h1v1h-1zM212 246h1v1h-1zM215 246h1v1h-1zM216 246h1v1h-1zM210 247h1v1h-1zM213 247h1v1h-1zM214 247h1v1h-1zM217 247h1v1h-1z" fill="#00ffff" stroke="none"/>
<path d="M191 325h1v1h-1zM194 325h1v1h-1zM195 325h1v1h-1zM196 325h1v1h-1zM198 325h1v1h-1zM192 326h1v1h-1zM193 326h1v1h-1zM196 326h1v1h-1zM197 326h1v1h-1zM191 327h1v1h-1zM192 327h1v1h-1zM193 327h1v1h-1zM196 327h1v1h-1zM198 327h1v1h-1zM191 328h1v1h-1zM194 328h1v1h-1zM195 328h1v1h-1zM198 328h1v1h-1zM191 329h1v1h-1zM194 329h1v1h-1zM195 329h1v1h-1zM198 329h1v1h-1zM192 330h1v1h-1zM193 330h1v1h-1zM196 330h1v1h-1zM197 330h1v1h-1zM192 331h1v1h-1zM193 331h1v1h-1zM196 331h1v1h-1zM197 331h1v1h-1zM191 332h1v1h-1zM194 332h1v1h-1zM195 332h1v1h-1zM198 332h1v1h-1z" fill="#00ffff" stroke="none"/>
<path d="M306 273h1v1h-1zM309 273h1v1h-1zM310 273h1v1h-1zM311 273h1v1h-1zM313 273h1v1h-1zM307 274h1v1h-1zM308 274h1v1h-1zM311 274h1v1h-1zM312 274h1v1h-1zM306 275h1v1h-1zM307 275h1v1h-1zM308 275h1v1h-1zM311 275h1v1h-1zM313 275h1v1h-1zM306 276h1v1h-1zM309 276h1v1h-1zM310 276h1v1h-1zM313 276h1v1h-1zM306 277h1v1h-1zM309 277h1v1h-1zM310 277h1v1h-1zM313 277h1v1h-1zM307 278h1v1h-1zM308 278h1v1h-1zM311 278h1v1h-1zM312 278h1v1h-1zM307 279h1v1h-1zM308 279h1v1h-1zM311 279h1v1h-1zM312 279h1v1h-1zM306 280h1v1h-1zM309 280h1v1h-1zM310 280h1v1h-1zM313 280h1v1h-1z" fill="#00ffff" stroke="none"/>
<path d="M464 221h1v1h-1zM467 221h1v1h-1zM468 221h1v1h-1zM469 221h1v1h-1zM471 221h1v1h-1zM465 222h1v1h-1zM466 222h1v1h-1zM469 222h1v1h-1zM470 222h1v1h-1zM464 223h1v1h-1zM465 223h1v1h-1zM466 223h1v1h-1zM469 223h1v1h-1zM471 223h1v1h-1zM464 224h1v1h-1zM467 224h1v1h-1zM468 224h1v1h-1zM471 224h1v1h-1zM464 225h1v1h-1zM467 225h1v1h-1zM468 225h1v1h-1zM471 225h1v1h-1zM465 226h1v1h-1zM466 226h1v1h-1zM469 226h1v1h-1zM470 226h1v1h-1zM465 227h1v1h-1zM466 227h1v1h-1zM469 227h1v1h-1zM470 227h1v1h-1zM464 228h1v1h-1zM467 228h1v1h-1zM468 228h1v1h-1zM471 228h1v1h-1z" fill="#00ffff" stroke="none"/>
<path d="M398 361h1v1h-1zM401 361h1v1h-1zM402 361h1v1h-1zM403 361h1v1h-1zM405 361h1v1h-1zM399 362h1v1h-1zM400 362h1v1h-1zM403 362h1v1h-1zM404 362h1v1h-1zM398 363h1v1h-1zM399 363h1v1h-1zM400 363h1v1h-1zM403 363h1v1h-1zM405 363h1v1h-1zM398 364h1v1h-1zM401 364h1v1h-1zM402 364h1v1h-1zM405 364h1v1h-1zM398 365h1v1h-1zM401 365h1v1h-1zM402 365h1v1h-1zM405 365h1v1h-1zM399 366h1v1h-1zM400 366h1v1h-1zM403 366h1v1h-1zM404 366h1v1h-1zM399 367h1v1h-1zM400 367h1v1h-1zM403 367h1v1h-1zM404 367h1v1h-1zM398 368h1v1h-1zM401 368h1v1h-1zM402 368h1v1h-1zM405 368h1v1h-1z" fill="#00ffff" stroke="none"/>
<path d="M740 335h1v1h-1zM743 335h1v1h-1zM744 335h1v1h-1zM745 335h1v1h-1zM747 335h1v1h-1zM741 336h1v1h-1zM742 336h1v1h-1zM745 336h1v1h-1zM746 336h1v1h-1zM740 337h1v1h-1zM741 337h1v1h-1zM742 337h1v1h-1zM745 337h1v1h-1zM747 337h1v1h-1zM740 338h1v1h-1zM743 338h1v1h-1zM744 338h1v1h-1zM747 338h1v1h-1zM740 339h1v1h-1zM743 339h1v1h-1zM744 339h1v1h-1zM747 339h1v1h-1zM741 340h1v1h-1zM742 340h1v1h-1zM745 340h1v1h-1zM746 340h1v1h-1zM741 341h1v1h-1zM742 341h1v1h-1zM745 341h1v1h-1zM746 341h1v1h-1zM740 342h1v1h-1zM743 342h1v1h-1zM744 342h1v1h-1zM747 342h1v1h-1z" fill="#00ffff" stroke="none"/>
<path d="M851 273h1v1h-1zM854 273h1v1h-1zM855 273h1v1h-1zM856 273h1v1h-1zM858 273h1v1h-1zM852 274h1v1h-1zM853 274h1v1h-1zM856 274h1v1h-1zM857 274h1v1h-1zM851 275h1v1h-1zM852 275h1v1h-1zM853 275h1v1h-1zM856 275h1v1h-1zM858 275h1v1h-1zM851 276h1v1h-1zM854 276h1v1h-1zM855 276h1v1h-1zM858 276h1v1h-1zM851 277h1v1h-1zM854 277h1v1h-1zM855 277h1v1h-1zM858 277h1v1h-1zM852 278h1v1h-1zM853 278h1v1h-1zM856 278h1v1h-1zM857 278h1v1h-1zM852 279h1v1h-1zM853 279h1v1h-1zM856 279h1v1h-1zM857 279h1v1h-1zM851 280h1v1h-1zM854 280h1v1h-1zM855 280h1v1h-1zM858 280h1v1h-1z" fill="#00ffff" stroke="none"/>
<path d="M929 268h1v1h-1zM932 268h1v1h-1zM933 268h1v1h-1zM934 268h1v1h-1zM936 268h1v1h-1zM930 269h1v1h-1zM931 269h1v1h-1zM934 269h1v1h-1zM935 269h1v1h-1zM929 270h1v1h-1zM930 270h1v1h-1zM931 270h1v1h-1zM934 270h1v1h-1zM936 270h1v1h-1zM929 271h1v1h-1zM932 271h1v1h-1zM933 271h1v1h-1zM936 271h1v1h-1zM929 272h1v1h-1zM932 272h1v1h-1zM933 272h1v1h-1zM936 272h1v1h-1zM930 273h1v1h-1zM931 273h1v1h-1zM934 273h1v1h-1zM935 273h1v1h-1zM930 274h1v1h-1zM931 274h1v1h-1zM934 274h1v1h-1zM935 274h1v1h-1zM929 275h1v1h-1zM932 275h1v1h-1zM933 275h1v1h-1zM936 275h1v1h-1z" fill="#00ffff" stroke="none"/></g></svg>
</body></html>
